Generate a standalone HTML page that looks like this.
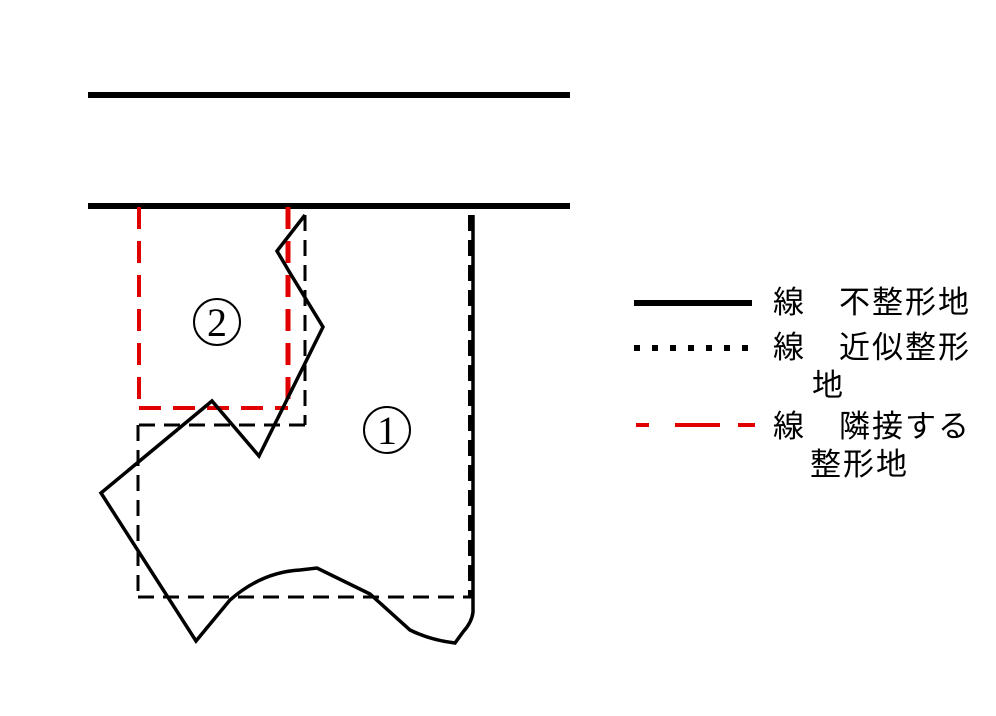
<!DOCTYPE html>
<html><head><meta charset="utf-8"><style>
html,body{margin:0;padding:0;background:#fff;}
svg{display:block;}
text{font-family:"Liberation Sans","Noto Sans CJK JP",sans-serif;}
</style></head><body>
<svg width="996" height="716" viewBox="0 0 996 716" xmlns="http://www.w3.org/2000/svg">
<rect width="996" height="716" fill="#fff"/>
<line x1="88" y1="95" x2="570" y2="95" stroke="#000" stroke-width="6"/>
<line x1="88" y1="206" x2="570" y2="206" stroke="#000" stroke-width="6"/>
<g stroke="#000" stroke-width="3" fill="none" stroke-dasharray="16,9">
<line x1="305" y1="215" x2="305" y2="425"/>
<line x1="305" y1="425" x2="138" y2="425"/>
<line x1="138" y1="425" x2="138" y2="597"/>
<line x1="138" y1="597" x2="472" y2="597"/>
</g>
<line x1="470" y1="215" x2="470" y2="597" stroke="#000" stroke-width="4" stroke-dasharray="16,9"/>
<g stroke="#e00000" stroke-width="4" fill="none" stroke-dasharray="22,12">
<line x1="139" y1="207" x2="139" y2="408"/>
<line x1="139" y1="408" x2="288" y2="408"/>
</g>
<line x1="288" y1="207" x2="288" y2="408" stroke="#e00000" stroke-width="5" stroke-dasharray="22,12"/>
<path d="M305,215 L277,251 L290,273 L323,327 L259,456 L212,401 L101,493 L196,641 L230,600 Q262,572 300,570 L317,568 L370,594 L410,630 Q430,640 455,643 L463,632 Q472,622 473,612 L473,215" fill="none" stroke="#000" stroke-width="3.5" stroke-linejoin="miter"/>
<circle cx="217" cy="322" r="23" fill="none" stroke="#000" stroke-width="2"/>
<text x="217" y="336" font-size="40" text-anchor="middle" style="font-family:'Liberation Serif',serif">2</text>
<circle cx="387" cy="430" r="23" fill="none" stroke="#000" stroke-width="2"/>
<text x="387" y="444" font-size="40" text-anchor="middle" style="font-family:'Liberation Serif',serif">1</text>
<line x1="634" y1="303" x2="752" y2="303" stroke="#000" stroke-width="6"/>
<g fill="#000">
<rect x="634" y="345" width="6" height="6"/><rect x="652" y="345" width="6" height="6"/><rect x="670" y="345" width="6" height="6"/><rect x="688" y="345" width="6" height="6"/><rect x="706" y="345" width="6" height="6"/><rect x="724" y="345" width="6" height="6"/><rect x="742" y="345" width="6" height="6"/>
</g>
<g stroke="#e00000" stroke-width="4">
<line x1="636" y1="425" x2="649" y2="425"/><line x1="675" y1="425" x2="720" y2="425"/><line x1="738" y1="425" x2="755" y2="425"/>
</g>
<g font-size="31" fill="#000" letter-spacing="2">
<text x="773" y="313">線　不整形地</text>
<text x="773" y="358">線　近似整形</text>
<text x="812" y="396">地</text>
<text x="773" y="437">線　隣接する</text>
<text x="810" y="475">整形地</text>
</g>
</svg>
</body></html>
